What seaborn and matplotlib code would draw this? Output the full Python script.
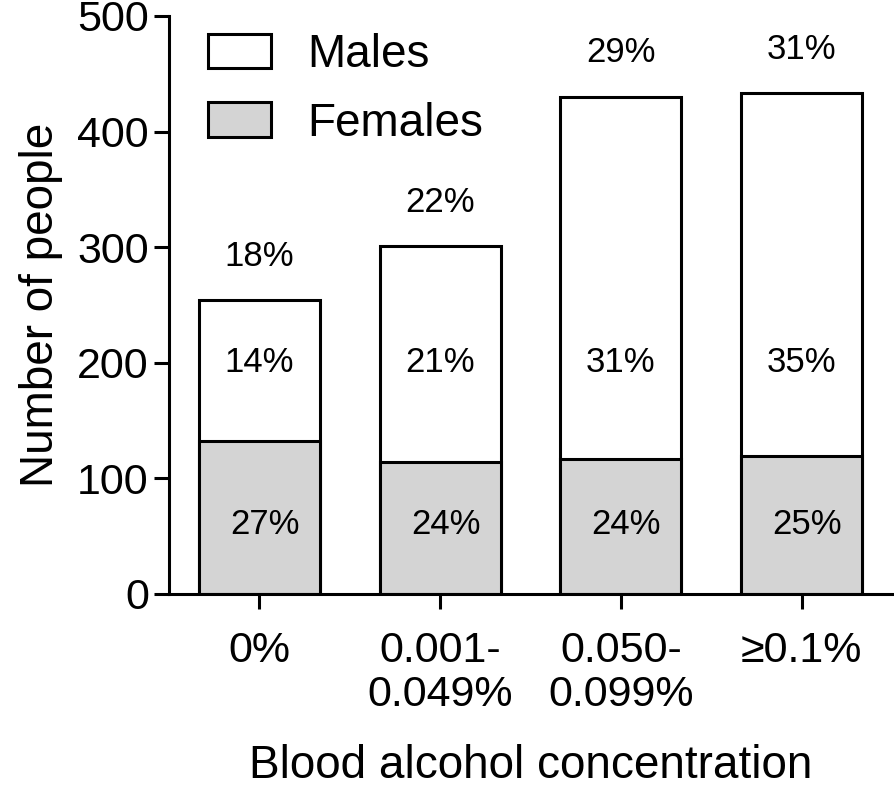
import pandas as pd
import matplotlib
matplotlib.use('Agg')
import matplotlib.pyplot as plt
import seaborn as sns
from matplotlib.patches import Patch

# Chart data
categories = ['0%', '0.001-\n0.049%', '0.050-\n0.099%', '≥0.1%']
females = [132, 114, 117, 119]
males = [122, 187, 313, 314]
pct_total = ['18%', '22%', '29%', '31%']
pct_males = ['14%', '21%', '31%', '35%']
pct_females = ['27%', '24%', '24%', '25%']

df = pd.DataFrame({'bac': categories, 'females': females, 'males': males})
df['total'] = df['females'] + df['males']

sns.set_style('ticks')
plt.rcParams['font.family'] = ['Liberation Sans', 'DejaVu Sans']
plt.rcParams.update({'text.color': 'black', 'axes.labelcolor': 'black',
                     'xtick.color': 'black', 'ytick.color': 'black'})

fig = plt.figure(figsize=(8.94, 7.88), dpi=100)
ax = fig.add_axes([0.189, 0.2462, 0.8087, 0.7335])

# Males stacked on females: draw totals first, then females over them
sns.barplot(data=df, x='bac', y='total', color='white', saturation=1,
            edgecolor='black', linewidth=2.2, width=0.67, ax=ax)
sns.barplot(data=df, x='bac', y='females', color='#d4d4d4', saturation=1,
            edgecolor='black', linewidth=2.2, width=0.67, ax=ax)

# Percentage annotations
for i, row in df.iterrows():
    ax.text(i, row['total'] + 38, pct_total[i], ha='center', va='center', fontsize=25)
    ax.text(i, 200, pct_males[i], ha='center', va='center', fontsize=25)
    ax.text(i + 0.03, 60, pct_females[i], ha='center', va='center', fontsize=25)

ax.set_xlim(-0.5, 3.5)
ax.set_ylim(0, 500)
ax.set_yticks(range(0, 501, 100))
ax.set_xlabel('Blood alcohol concentration', fontsize=33, labelpad=21)
ax.set_ylabel('Number of people', fontsize=33, labelpad=10)
ax.tick_params(axis='both', labelsize=31, length=11, width=2.2, color='black')
ax.tick_params(axis='x', pad=16)
for lbl in ax.get_xticklabels():
    lbl.set_linespacing(1.1)

sns.despine(ax=ax)
for side in ['left', 'bottom']:
    ax.spines[side].set_linewidth(2.2)
    ax.spines[side].set_color('black')

handles = [Patch(facecolor='white', edgecolor='black', linewidth=2.2, label='Males'),
           Patch(facecolor='#d4d4d4', edgecolor='black', linewidth=2.2, label='Females')]
ax.legend(handles=handles, loc='upper left', bbox_to_anchor=(0.054, 0.971),
          frameon=False, fontsize=33, handlelength=1.37, handleheight=0.78,
          handletextpad=0.8, labelspacing=0.54, borderpad=0, borderaxespad=0)

fig.savefig('out.png', dpi=100)
